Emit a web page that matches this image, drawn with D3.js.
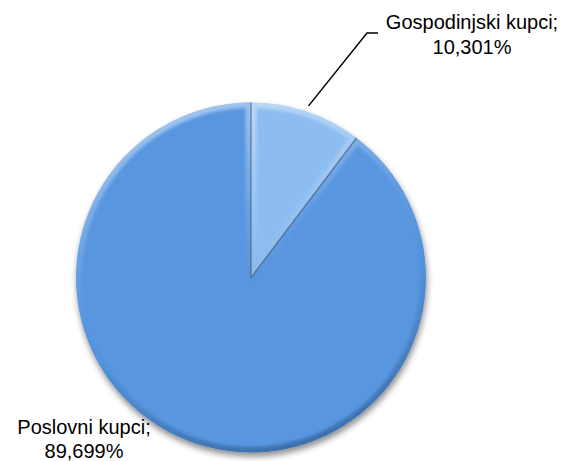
<!DOCTYPE html>
<html>
<head>
<meta charset="utf-8">
<script src="https://cdn.jsdelivr.net/npm/d3@7"></script>
<style>
  html, body { margin: 0; padding: 0; background: #fff; }
  svg { display: block; }
  text { font-family: Arial, "Liberation Sans", sans-serif; fill: #000; }
</style>
</head>
<body>
<svg id="chart" width="569" height="461"></svg>
<script>
// Struktura kupaca (udio u %)
const categories = ["Gospodinjski kupci", "Poslovni kupci"];
const values = [10.301, 89.699];
const valueLabels = ["10,301%", "89,699%"];
const colors = ["#8dbdf0", "#5896e0"];

const width = 569, height = 461;
const cx = 251, cy = 277.5, radius = 175;

const svg = d3.select("#chart");
const defs = svg.append("defs");

// soft drop shadow under the pie
const shadow = defs.append("filter").attr("id", "shadow")
  .attr("x", "-20%").attr("y", "-20%").attr("width", "140%").attr("height", "140%");
shadow.append("feGaussianBlur").attr("in", "SourceAlpha").attr("stdDeviation", 3).attr("result", "b");
shadow.append("feOffset").attr("in", "b").attr("dx", 1).attr("dy", 4).attr("result", "o");
shadow.append("feComponentTransfer").attr("in", "o").attr("result", "s")
  .append("feFuncA").attr("type", "linear").attr("slope", 0.45);
const sm = shadow.append("feMerge");
sm.append("feMergeNode").attr("in", "s");
sm.append("feMergeNode").attr("in", "SourceGraphic");

// blur used to soften the bevel edges
defs.append("filter").attr("id", "soft")
  .attr("x", "-10%").attr("y", "-10%").attr("width", "120%").attr("height", "120%")
  .append("feGaussianBlur").attr("stdDeviation", 1.4);

// bevel gradient (coordinates relative to the pie centre): highlight on top, shade at the bottom
const bevel = defs.append("linearGradient").attr("id", "bevel")
  .attr("gradientUnits", "userSpaceOnUse")
  .attr("x1", -radius * 0.3).attr("y1", -radius)
  .attr("x2", radius * 0.3).attr("y2", radius);
bevel.append("stop").attr("offset", "0%").attr("stop-color", "#ffffff").attr("stop-opacity", 0.45);
bevel.append("stop").attr("offset", "35%").attr("stop-color", "#ffffff").attr("stop-opacity", 0.08);
bevel.append("stop").attr("offset", "60%").attr("stop-color", "#1d3d66").attr("stop-opacity", 0.05);
bevel.append("stop").attr("offset", "100%").attr("stop-color", "#1d3d66").attr("stop-opacity", 0.45);

const pie = d3.pie().sort(null).value(d => d)(values);
const arc = d3.arc().innerRadius(0).outerRadius(radius);

const g = svg.append("g").attr("transform", `translate(${cx},${cy})`);

const pieGroup = g.append("g").attr("filter", "url(#shadow)");
pieGroup.selectAll("path.slice").data(pie).join("path")
  .attr("class", "slice")
  .attr("d", arc)
  .attr("fill", (d, i) => colors[i]);

// bevel overlay clipped to each slice
pie.forEach((d, i) => {
  const id = "clip" + i;
  defs.append("clipPath").attr("id", id)
    .append("path").attr("d", arc(d));
  g.append("g").attr("clip-path", `url(#${id})`)
    .append("path")
    .attr("d", arc(d))
    .attr("fill", "none")
    .attr("stroke", "url(#bevel)")
    .attr("stroke-width", 11)
    .attr("stroke-linejoin", "round")
    .attr("filter", "url(#soft)");
});

// thin seams between slices
g.selectAll("line.seam").data(pie).join("line")
  .attr("class", "seam")
  .attr("x1", 0).attr("y1", 0)
  .attr("x2", d => radius * Math.sin(d.startAngle))
  .attr("y2", d => -radius * Math.cos(d.startAngle))
  .attr("stroke", "#3f5570").attr("stroke-opacity", 0.7).attr("stroke-width", 1.2);

// label for the small slice with a leader line
const small = pie[0];
const mid = (small.startAngle + small.endAngle) / 2;
const p0 = [ (radius + 6) * Math.sin(mid), -(radius + 6) * Math.cos(mid) ];
const p1 = [ 367 - cx, 33 - cy ];
const p2 = [ 378 - cx, 33 - cy ];
g.append("polyline")
  .attr("points", [p0, p1, p2].map(p => p.join(",")).join(" "))
  .attr("fill", "none").attr("stroke", "#000").attr("stroke-width", 1.5);

const t1 = svg.append("text").attr("text-anchor", "middle").style("font-size", "20px");
t1.append("tspan").attr("x", 472).attr("y", 29).text(categories[0] + ";");
t1.append("tspan").attr("x", 472).attr("y", 54).text(valueLabels[0]);

const t2 = svg.append("text").attr("text-anchor", "middle").style("font-size", "20px");
t2.append("tspan").attr("x", 84).attr("y", 434).text(categories[1] + ";");
t2.append("tspan").attr("x", 84).attr("y", 458).text(valueLabels[1]);
</script>
</body>
</html>
